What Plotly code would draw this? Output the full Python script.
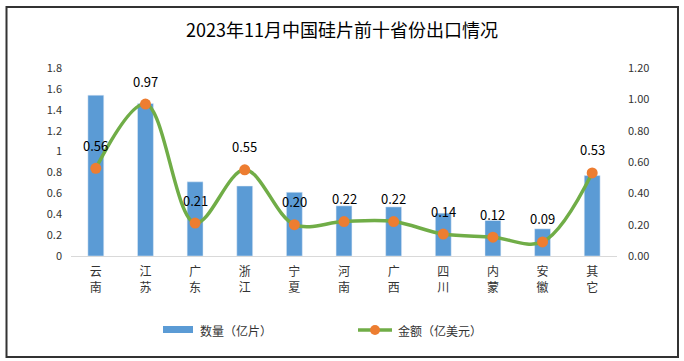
import plotly.graph_objects as go

categories = ["云<br>南", "江<br>苏", "广<br>东", "浙<br>江", "宁<br>夏", "河<br>南",
              "广<br>西", "四<br>川", "内<br>蒙", "安<br>徽", "其<br>它"]
quantity = [1.54, 1.46, 0.71, 0.67, 0.61, 0.48, 0.47, 0.41, 0.34, 0.26, 0.77]
amount = [0.56, 0.97, 0.21, 0.55, 0.20, 0.22, 0.22, 0.14, 0.12, 0.09, 0.53]
left_ticks = [0, 0.2, 0.4, 0.6, 0.8, 1, 1.2, 1.4, 1.6, 1.8]
left_labels = ["0", "0.2", "0.4", "0.6", "0.8", "1", "1.2", "1.4", "1.6", "1.8"]
right_ticks = [0, 0.2, 0.4, 0.6, 0.8, 1.0, 1.2]
right_labels = ["0.00", "0.20", "0.40", "0.60", "0.80", "1.00", "1.20"]
legend_names = ["数量（亿片）", "金额（亿美元）"]

FONT = "Noto Sans CJK SC, Liberation Sans, sans-serif"
W, H = 684, 361
L, R, T, B = 71, 67, 68, 105
PW, PH = W - L - R, H - T - B


def px(x):
    return (x - L) / PW


def py(y):
    return (H - B - y) / PH


fig = go.Figure()
fig.add_trace(go.Bar(
    x=categories, y=quantity, name=legend_names[0],
    marker=dict(color="#5B9BD5"), yaxis="y", showlegend=False,
))
fig.add_trace(go.Scatter(
    x=categories, y=amount, name=legend_names[1], yaxis="y2",
    mode="lines+markers", showlegend=False,
    line=dict(color="#70AD47", width=3.5, shape="spline", smoothing=1.0),
    marker=dict(color="#ED7D31", size=11),
))

for c, v in zip(categories, amount):
    fig.add_annotation(x=c, y=v, yref="y2", text=f"{v:.2f}", showarrow=False,
                       yshift=23, font=dict(size=13, color="#000000", family=FONT))

# outer border
fig.add_shape(type="rect", xref="paper", yref="paper",
              x0=px(6.5), x1=px(678), y0=py(357), y1=py(7),
              line=dict(color="#333333", width=2), layer="below")

# custom legend
fig.add_shape(type="rect", xref="paper", yref="paper",
              x0=px(163), x1=px(193), y0=py(333), y1=py(326),
              fillcolor="#5B9BD5", line=dict(width=0))
fig.add_annotation(xref="paper", yref="paper", x=px(198), y=py(330),
                   xanchor="left", yanchor="middle", text=legend_names[0],
                   showarrow=False, font=dict(size=12, color="#333333", family=FONT))
fig.add_shape(type="line", xref="paper", yref="paper",
              x0=px(358), x1=px(392), y0=py(330), y1=py(330),
              line=dict(color="#70AD47", width=3.5))
fig.add_shape(type="circle", xref="paper", yref="paper",
              x0=px(370), x1=px(380), y0=py(335), y1=py(325),
              fillcolor="#ED7D31", line=dict(width=0))
fig.add_annotation(xref="paper", yref="paper", x=px(396), y=py(330),
                   xanchor="left", yanchor="middle", text=legend_names[1],
                   showarrow=False, font=dict(size=12, color="#333333", family=FONT))

fig.update_layout(
    width=W, height=H,
    margin=dict(l=L, r=R, t=T, b=B, autoexpand=False),
    paper_bgcolor="white", plot_bgcolor="white",
    font=dict(family=FONT, size=12, color="#333333"),
    title=dict(text="2023年11月中国硅片前十省份出口情况", x=0.5, xref="container",
               y=1 - 31 / H, yanchor="middle", automargin=False,
               font=dict(size=18, color="#000000", family=FONT)),
    bargap=0.68,
    showlegend=False,
    xaxis=dict(range=[-0.5, len(categories) - 0.5], showline=True,
               linecolor="#D9D9D9", linewidth=1, ticks="",
               tickfont=dict(size=12, color="#333333"), showgrid=False,
               automargin=False, ticklabelstandoff=5),
    yaxis=dict(range=[0, 1.8], tickvals=left_ticks, ticktext=left_labels,
               showgrid=False, zeroline=False, showline=False, automargin=False,
               tickfont=dict(size=11, color="#333333"), ticklabelstandoff=8),
    yaxis2=dict(range=[0, 1.2], tickvals=right_ticks, ticktext=right_labels,
                overlaying="y", side="right", showgrid=False, zeroline=False,
                showline=False, automargin=False,
                tickfont=dict(size=11, color="#333333"),
                ticklabelstandoff=10),
)

fig.write_html("out.html",
               config={"displayModeBar": False},
               post_script="document.body.style.margin='0';"
                           "document.body.style.overflow='hidden';")
